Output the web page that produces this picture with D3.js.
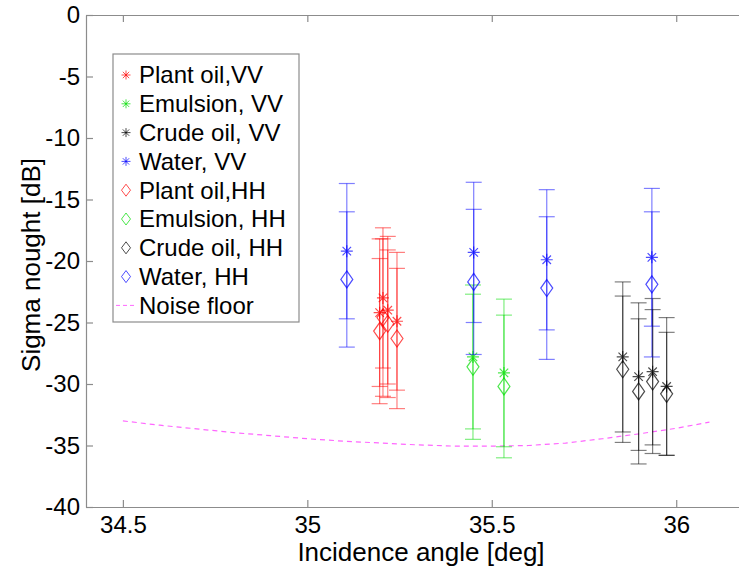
<!DOCTYPE html>
<html>
<head>
<meta charset="utf-8">
<script src="https://cdn.jsdelivr.net/npm/d3@7"></script>
<style>
body { margin: 0; background: #fff; }
text { font-family: "Liberation Sans", Arial, Helvetica, sans-serif; }
</style>
</head>
<body>
<div id="chart"></div>
<script>
//----------------------------------------------------------------
// values
//----------------------------------------------------------------
var ticksX = [34.5, 35, 35.5, 36];
var ticksY = [-40, -35, -30, -25, -20, -15, -10, -5, 0];

// plant oil (red)
var plantX = [35.196, 35.205, 35.218, 35.243];
var plantVV = [-24.2, -23.0, -24.0, -24.9];
var plantVVerr = [6.0, 5.7, 6.0, 5.6];
var plantHH = [-25.7, -24.6, -25.1, -26.3];
var plantHHerr = [5.9, 6.4, 6.0, 5.7];

// emulsion (green)
var emulX = [35.449, 35.533];
var emulVV = [-27.8, -29.1];
var emulVVerr = [5.85, 6.0];
var emulHH = [-28.6, -30.2];
var emulHHerr = [5.9, 5.8];

// crude oil (black)
var crudeX = [35.855, 35.898, 35.936, 35.974];
var crudeVV = [-27.8, -29.4, -29.0, -30.2];
var crudeVVerr = [6.1, 6.0, 5.95, 5.6];
var crudeHH = [-28.8, -30.6, -29.8, -30.8];
var crudeHHerr = [5.95, 5.9, 5.85, 5.0];

// water (blue)
var waterX = [35.107, 35.451, 35.649, 35.934];
var waterVV = [-19.2, -19.3, -19.9, -19.7];
var waterVVerr = [5.5, 5.7, 5.7, 5.6];
var waterHH = [-21.5, -21.7, -22.2, -21.9];
var waterHHerr = [5.5, 5.9, 5.8, 5.9];

// noise floor (magenta dashed)
var noiseX = [34.5, 34.6, 34.7, 34.8, 34.9, 35.0, 35.1, 35.2, 35.3, 35.4, 35.5, 35.6, 35.7, 35.8, 35.9, 36.0, 36.09];
var noiseY = [-33.0, -33.35, -33.65, -33.95, -34.2, -34.45, -34.65, -34.8, -34.95, -35.05, -35.05, -35.0, -34.8, -34.45, -34.05, -33.6, -33.1];

var legendNames = ["Plant oil,VV", "Emulsion, VV", "Crude oil, VV", "Water, VV",
                   "Plant oil,HH", "Emulsion, HH", "Crude oil, HH", "Water, HH", "Noise floor"];

var rouge = "#ff0000", vert = "#00dd00", noir = "#000000", bleu = "#0000ff", rose = "#ff00ff";

var series = [
  {x: plantX, y: plantVV, e: plantVVerr, c: rouge, m: "star"},
  {x: emulX,  y: emulVV,  e: emulVVerr,  c: vert,  m: "star"},
  {x: crudeX, y: crudeVV, e: crudeVVerr, c: noir,  m: "star"},
  {x: waterX, y: waterVV, e: waterVVerr, c: bleu,  m: "star"},
  {x: plantX, y: plantHH, e: plantHHerr, c: rouge, m: "diamond"},
  {x: emulX,  y: emulHH,  e: emulHHerr,  c: vert,  m: "diamond"},
  {x: crudeX, y: crudeHH, e: crudeHHerr, c: noir,  m: "diamond"},
  {x: waterX, y: waterHH, e: waterHHerr, c: bleu,  m: "diamond"}
];

//----------------------------------------------------------------
// svg + scales
//----------------------------------------------------------------
var largeur = 739, hauteur = 569;
var svg = d3.select("#chart")
  .append("svg")
  .attr("width", largeur)
  .attr("height", hauteur);

var x = d3.scaleLinear().domain([34.4, 36.2]).range([86, 750]);
var y = d3.scaleLinear().domain([-40, 0]).range([507, 15]);

//----------------------------------------------------------------
// markers
//----------------------------------------------------------------
function star(r) {
  var a = r * 0.7071;
  return "M" + (-r) + ",0L" + r + ",0M0," + (-r) + "L0," + r +
         "M" + (-a) + "," + (-a) + "L" + a + "," + a +
         "M" + (-a) + "," + a + "L" + a + "," + (-a);
}
function diamond(w, h) {
  return "M0," + (-h) + "L" + w + ",0L0," + h + "L" + (-w) + ",0Z";
}

//----------------------------------------------------------------
// axes (box, ticks inside)
//----------------------------------------------------------------
var axisColor = "#8c8c8c";
var simple = function(d) { return String(d); };   // plain hyphen like matlab

svg.append("g")
  .attr("transform", "translate(0,507)")
  .call(d3.axisBottom(x).tickValues(ticksX).tickFormat(simple).tickSizeInner(-7).tickSizeOuter(0).tickPadding(9))
  .call(function(g) {
    g.selectAll("text").attr("font-size", "24px").attr("fill", "#000").style("font-family", "Liberation Sans, Arial");
  });

svg.append("g")
  .attr("transform", "translate(0,15)")
  .call(d3.axisTop(x).tickValues(ticksX).tickFormat("").tickSizeInner(-7).tickSizeOuter(0));

svg.append("g")
  .attr("transform", "translate(86,0)")
  .call(d3.axisLeft(y).tickValues(ticksY).tickFormat(simple).tickSizeInner(-7).tickSizeOuter(0).tickPadding(6))
  .call(function(g) {
    g.selectAll("text").attr("font-size", "24px").attr("fill", "#000").style("font-family", "Liberation Sans, Arial");
  });

svg.selectAll(".domain, .tick line")
  .attr("stroke", axisColor)
  .attr("stroke-width", 1.2);

// axis titles
svg.append("text")
  .attr("x", 421)
  .attr("y", 561)
  .attr("text-anchor", "middle")
  .attr("font-size", "26px")
  .text("Incidence angle [deg]");

svg.append("text")
  .attr("transform", "translate(40,265) rotate(-90)")
  .attr("text-anchor", "middle")
  .attr("font-size", "26px")
  .text("Sigma nought [dB]");

//----------------------------------------------------------------
// data: error bars + markers
//----------------------------------------------------------------
var plot = svg.append("g");
var cap = 8;

// noise floor
var ligne = d3.line()
  .x(function(d, i) { return x(noiseX[i]); })
  .y(function(d) { return y(d); });
plot.append("path")
  .attr("d", ligne(noiseY))
  .attr("fill", "none")
  .attr("stroke", rose)
  .attr("stroke-opacity", 0.6)
  .attr("stroke-width", 1.2)
  .attr("stroke-dasharray", "5,4");

series.forEach(function(s) {
  var g = plot.append("g");
  s.x.forEach(function(xv, i) {
    var cx = x(xv), top = y(s.y[i] + s.e[i]), bot = y(s.y[i] - s.e[i]);
    g.append("line").attr("x1", cx).attr("x2", cx).attr("y1", top).attr("y2", bot);
    g.append("line").attr("x1", cx - cap).attr("x2", cx + cap).attr("y1", top).attr("y2", top);
    g.append("line").attr("x1", cx - cap).attr("x2", cx + cap).attr("y1", bot).attr("y2", bot);
    g.append("path")
      .attr("transform", "translate(" + cx + "," + y(s.y[i]) + ")")
      .attr("d", s.m == "star" ? star(6) : diamond(6, 8.5))
      .attr("fill", "none");
  });
  g.selectAll("line")
    .attr("stroke", s.c)
    .attr("stroke-opacity", 0.5)
    .attr("stroke-width", 1.2);
  g.selectAll("path")
    .attr("stroke", s.c)
    .attr("stroke-opacity", 0.7)
    .attr("stroke-width", 1.2);
});

//----------------------------------------------------------------
// legend
//----------------------------------------------------------------
var leg = svg.append("g");
leg.append("rect")
  .attr("x", 113).attr("y", 54)
  .attr("width", 186).attr("height", 268)
  .attr("fill", "#fff")
  .attr("stroke", axisColor)
  .attr("stroke-width", 1.2);

legendNames.forEach(function(nom, i) {
  var ly = 75 + i * 28.8;
  if (i < 8) {
    var s = series[i];
    leg.append("path")
      .attr("transform", "translate(126," + ly + ")")
      .attr("d", s.m == "star" ? star(4.5) : diamond(4.5, 6))
      .attr("fill", "none")
      .attr("stroke", s.c)
      .attr("stroke-opacity", 0.7)
      .attr("stroke-width", 1);
  } else {
    leg.append("line")
      .attr("x1", 116).attr("x2", 136)
      .attr("y1", ly).attr("y2", ly)
      .attr("stroke", rose)
      .attr("stroke-opacity", 0.6)
      .attr("stroke-dasharray", "4,3");
  }
  leg.append("text")
    .attr("x", 139)
    .attr("y", ly)
    .attr("dy", "0.35em")
    .attr("font-size", "24px")
    .text(nom);
});
</script>
</body>
</html>
